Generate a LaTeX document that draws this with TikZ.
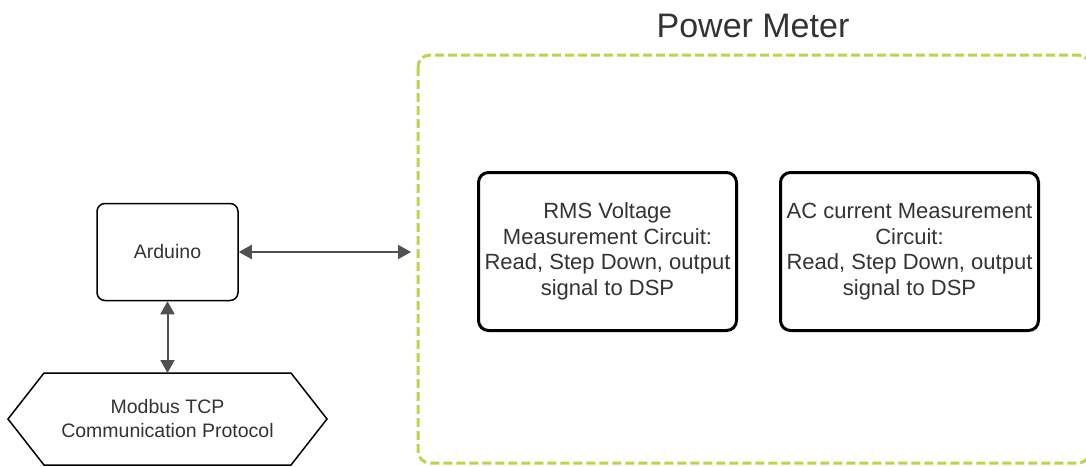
\documentclass[tikz,border=0pt]{standalone}
\usepackage{fontspec}
\setmainfont{Liberation Sans}
\usepackage{tikz}
\usetikzlibrary{arrows.meta}
\definecolor{txtgray}{HTML}{333333}
\definecolor{linkgray}{HTML}{505050}
\definecolor{meterdash}{RGB}{190,212,72}
\tikzset{
  devbox/.style={draw=black, line width=1.5pt, rounded corners=8pt, minimum width=141pt, minimum height=97pt, text=txtgray, font=\fontsize{19.5}{23}\selectfont},
  circbox/.style={draw=black, line width=3pt, rounded corners=10pt, minimum width=258pt, minimum height=158pt, align=center, text=txtgray, font=\fontsize{22}{25.5}\selectfont},
  link/.style={draw=linkgray, line width=2pt, {Triangle[length=13pt,width=14pt]}-{Triangle[length=13pt,width=14pt]}}
}
\begin{document}
\begin{tikzpicture}[x=1pt,y=-1pt]
\useasboundingbox (0,0) rectangle (1086,466);
\clip (0,0) rectangle (1086,466);
\draw [meterdash, line width=3pt, dash pattern=on 9pt off 4pt, rounded corners=12pt] (418,55) rectangle (1090,463);
\node (title) at (753,37) [anchor=base, text=txtgray, font=\fontsize{34}{40}\selectfont] {Power Meter};
\node (rms) at (607.5,251.5) [circbox] {RMS Voltage\\Measurement Circuit:\\Read, Step Down, output\\signal to DSP};
\node (acc) at (909.5,251.5) [circbox] {AC current Measurement\\Circuit:\\Read, Step Down, output\\signal to DSP};
\node (ard) at (167.5,252) [devbox] {Arduino};
\node (modbus) at (167.5,419) [minimum width=319pt, minimum height=92pt, outer sep=0pt, align=center, text=txtgray, font=\fontsize{19.5}{24}\selectfont] {Modbus TCP\\Communication Protocol};
\draw [line width=1.5pt, line join=miter] (modbus.west) -- ([xshift=36pt]modbus.north west) -- ([xshift=-36pt]modbus.north east) -- (modbus.east) -- ([xshift=-36pt]modbus.south east) -- ([xshift=36pt]modbus.south west) -- cycle;
\coordinate (meterin) at (411,252);
\draw [link] (ard.east) -- (meterin);
\draw [link] (ard.south) -- (modbus.north);
\end{tikzpicture}
\end{document}
